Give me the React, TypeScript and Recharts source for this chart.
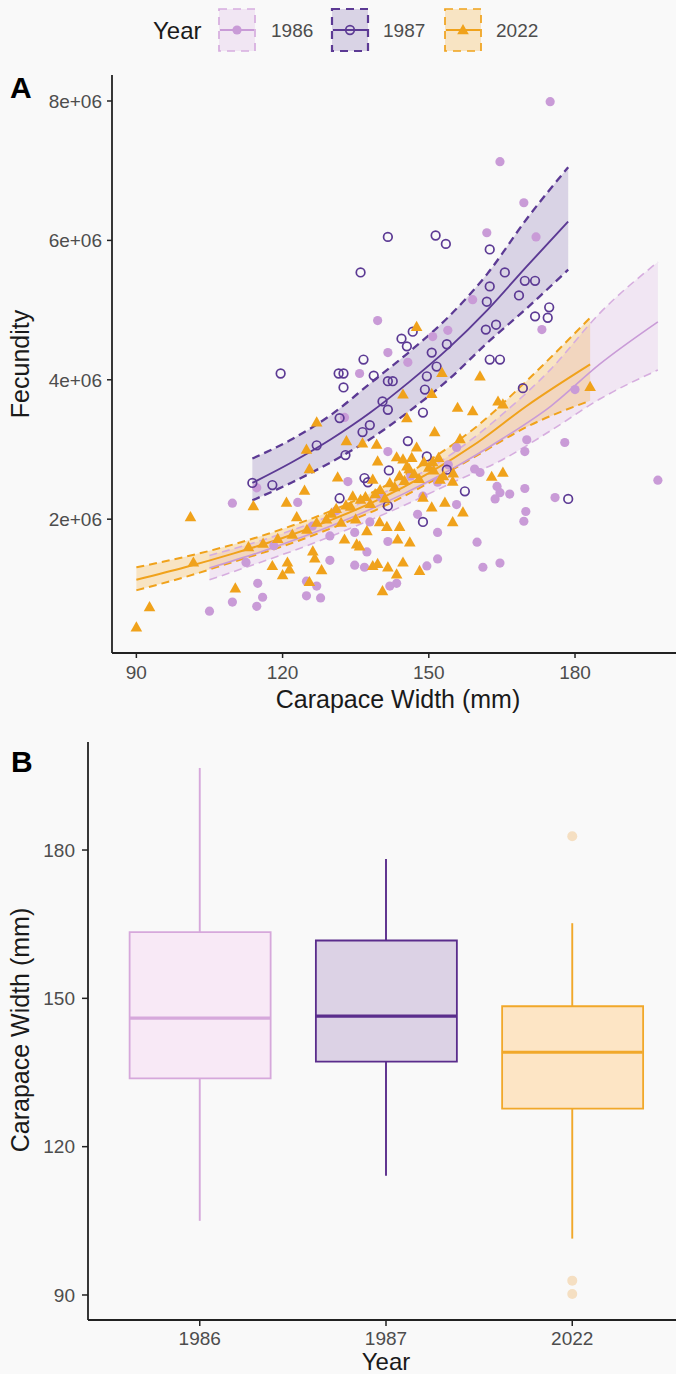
import React from "react";
import {
  Area,
  Bar,
  Cell,
  ComposedChart,
  Line,
  ReferenceLine,
  Scatter,
  XAxis,
  YAxis,
} from "recharts";

// ---------- panel A: carapace width (mm) vs fecundity (x 1e6 eggs) ----------
const pts1986: [number, number][] = [
  [105.0, 0.68], [109.7, 0.81], [109.7, 2.23], [112.5, 1.38], [114.7, 0.75], [114.7, 2.45],
  [114.9, 1.08], [115.9, 0.88], [118.2, 1.62], [123.1, 2.24], [124.9, 1.11], [124.9, 0.9],
  [126.1, 1.9], [127.0, 1.04], [127.8, 0.87], [129.7, 1.41], [129.7, 1.76], [131.0, 2.12],
  [132.7, 3.46], [133.4, 2.54], [134.8, 1.34], [134.8, 1.81], [135.8, 4.09], [136.8, 1.31],
  [137.3, 1.53], [137.9, 1.96], [139.5, 4.85], [140.2, 2.31], [141.6, 4.39], [141.6, 2.97],
  [141.6, 1.68], [142.0, 1.04], [143.4, 1.08], [145.7, 4.25], [146.3, 2.62], [147.7, 2.07],
  [148.8, 2.33], [149.6, 1.33], [150.8, 4.62], [151.8, 1.81], [151.8, 1.43], [151.8, 2.53],
  [153.9, 4.71], [154.0, 2.78], [155.7, 2.21], [155.7, 3.03], [159.0, 5.15], [159.4, 2.72],
  [159.9, 1.67], [160.5, 2.67], [161.1, 1.31], [161.9, 6.11], [163.6, 2.29], [164.0, 2.47],
  [164.6, 2.38], [164.6, 1.37], [164.6, 7.13], [166.6, 2.36], [169.5, 6.54], [169.5, 1.97],
  [169.7, 2.97], [169.7, 2.44], [169.9, 2.11], [170.1, 3.14], [172.0, 6.05], [173.2, 4.72],
  [174.9, 7.99], [175.9, 2.31], [177.9, 3.1], [180.0, 3.86], [197.0, 2.56],
];

const pts1987: [number, number][] = [
  [113.8, 2.52], [117.9, 2.49], [119.6, 4.09], [127.0, 3.06], [131.5, 4.09], [132.5, 4.09],
  [131.7, 3.45], [132.9, 2.92], [131.7, 2.3], [132.5, 3.89], [136.0, 5.54], [136.6, 4.29],
  [136.4, 3.25], [137.9, 3.35], [136.8, 2.59], [137.5, 2.53], [138.7, 4.06], [140.5, 3.69],
  [141.6, 3.57], [141.6, 6.05], [141.6, 3.98], [142.6, 3.98], [141.8, 2.7], [141.6, 2.19],
  [144.4, 4.59], [145.5, 4.48], [146.7, 4.69], [145.7, 3.12], [148.8, 3.53], [149.2, 3.86],
  [149.6, 4.05], [149.6, 2.9], [148.8, 1.96], [150.6, 4.39], [151.6, 4.19], [151.4, 6.07],
  [153.5, 5.95], [153.7, 4.51], [153.7, 2.71], [157.4, 2.4], [161.7, 4.72], [161.9, 5.12],
  [162.5, 5.34], [162.5, 5.87], [162.5, 4.29], [163.8, 4.79], [164.6, 4.29], [165.6, 5.54],
  [168.5, 5.21], [169.3, 3.88], [169.7, 5.42], [171.8, 5.42], [171.8, 4.91], [174.4, 4.89],
  [174.7, 5.04], [178.6, 2.29],
];

const pts2022: [number, number][] = [
  [90.0, 0.45], [92.7, 0.74], [101.1, 2.03], [101.7, 1.38], [110.3, 1.01], [114.0, 2.19],
  [113.0, 1.6], [116.0, 1.65], [117.9, 1.33], [119.0, 1.72], [120.0, 1.2], [120.8, 2.24],
  [121.0, 1.38], [121.4, 1.28], [122.0, 1.78], [122.9, 2.03], [124.5, 2.41], [124.9, 3.0],
  [125.5, 2.72], [125.5, 1.1], [125.0, 1.85], [126.2, 1.54], [126.6, 1.44], [127.0, 3.39],
  [127.0, 1.95], [128.0, 1.27], [129.0, 2.0], [130.0, 2.08], [131.3, 2.6], [131.0, 2.15],
  [132.0, 1.95], [132.7, 1.71], [133.1, 3.12], [133.0, 2.2], [134.4, 2.33], [134.0, 2.18],
  [135.2, 1.64], [135.0, 2.0], [135.8, 1.61], [136.4, 3.09], [136.0, 2.28], [137.3, 1.83],
  [137.0, 2.32], [138.5, 2.57], [138.5, 1.33], [138.0, 2.22], [139.3, 3.07], [139.5, 2.83],
  [139.5, 1.36], [139.0, 2.36], [139.9, 1.96], [140.0, 2.42], [140.5, 0.97], [141.4, 1.89],
  [141.6, 1.31], [141.0, 2.3], [142.0, 2.52], [143.4, 2.89], [143.4, 1.21], [143.6, 1.71],
  [143.0, 2.46], [144.0, 1.89], [144.7, 2.86], [144.7, 3.79], [144.7, 1.38], [144.0, 2.62],
  [145.5, 3.45], [145.5, 2.76], [145.0, 2.55], [146.1, 1.67], [146.5, 2.88], [146.0, 2.72],
  [147.5, 3.03], [147.5, 4.76], [147.0, 2.65], [148.1, 1.26], [148.8, 2.31], [148.0, 2.58],
  [149.0, 2.82], [150.6, 3.8], [150.6, 2.17], [150.8, 2.82], [150.0, 2.74], [151.2, 3.25],
  [151.0, 2.7], [152.3, 2.57], [152.7, 4.1], [152.0, 2.88], [153.3, 2.24], [153.0, 2.62],
  [154.9, 2.54], [154.9, 1.96], [155.9, 3.6], [155.0, 2.66], [156.4, 3.15], [157.0, 2.1],
  [159.0, 3.55], [160.5, 4.05], [162.9, 2.61], [164.2, 3.69], [165.2, 3.65], [165.2, 2.67],
  [183.1, 3.9],
];

// fitted curves with confidence band (x 1e6)
const fitX1986 = [105, 115, 125, 135, 145, 155, 165, 175, 185, 197];
const fitMid1986 = [1.3, 1.52, 1.77, 2.05, 2.37, 2.73, 3.15, 3.62, 4.22, 4.83];
const fitLo1986 = [1.13, 1.37, 1.62, 1.9, 2.2, 2.53, 2.85, 3.27, 3.72, 4.14];
const fitHi1986 = [1.48, 1.68, 1.92, 2.2, 2.53, 2.95, 3.5, 4.15, 4.95, 5.69];

const fitX1987 = [113.8, 122, 130, 138, 146, 154, 162, 170, 178.6];
const fitMid1987 = [2.52, 2.82, 3.15, 3.53, 3.97, 4.45, 5.0, 5.62, 6.27];
const fitLo1987 = [2.27, 2.53, 2.82, 3.15, 3.55, 4.0, 4.53, 5.02, 5.58];
const fitHi1987 = [2.87, 3.15, 3.5, 3.95, 4.4, 4.9, 5.52, 6.3, 7.05];

const fitX2022 = [90, 100, 110, 120, 130, 140, 150, 160, 170, 183.1];
const fitMid2022 = [1.13, 1.31, 1.51, 1.73, 1.99, 2.29, 2.66, 3.1, 3.62, 4.22];
const fitLo2022 = [0.98, 1.17, 1.39, 1.61, 1.87, 2.16, 2.52, 2.92, 3.32, 3.7];
const fitHi2022 = [1.31, 1.46, 1.64, 1.86, 2.12, 2.44, 2.84, 3.34, 3.98, 4.89];

const fecTicks = [2, 4, 6, 8];
const cwTicks = [90, 120, 150, 180];

// ---------- panel B: carapace width by year ----------
const years = ["1986", "1987", "2022"];
const whiskerLow = [105, 114.1, 101.4];
const boxQ1 = [133.8, 137.2, 127.7];
const boxMedian = [146, 146.4, 139.1];
const boxQ3 = [163.4, 161.7, 148.4];
const whiskerHigh = [196.6, 178.2, 165.2];
const outliers2022 = [182.8, 92.9, 90.2];
const boxTicks = [90, 120, 150, 180];

const C = {
  "1986": { main: "#c99bd7", dash: "#d6addf", band: "#dfb8e6", bandOp: 0.3, boxFill: "#f8e9f6", boxStroke: "#d6a8db" },
  "1987": { main: "#5c3a94", dash: "#5c3a94", band: "#5c3a94", bandOp: 0.2, boxFill: "#dcd2e5", boxStroke: "#5a2d8c" },
  "2022": { main: "#f0a21b", dash: "#f0a21b", band: "#f6a823", bandOp: 0.25, boxFill: "#fde5c5", boxStroke: "#f1a82a" },
};

const AXIS = "#222";
const TICK = { fill: "#4d4d4d", fontSize: 19 };

const toPts = (p: [number, number][]) => p.map(([x, y]) => ({ x, y }));
const toFit = (xs: number[], mid: number[], lo: number[], hi: number[]) =>
  xs.map((x, i) => ({ x, mid: mid[i], lo: lo[i], hi: hi[i], band: [lo[i], hi[i]] }));

const fits = {
  "1986": toFit(fitX1986, fitMid1986, fitLo1986, fitHi1986),
  "1987": toFit(fitX1987, fitMid1987, fitLo1987, fitHi1987),
  "2022": toFit(fitX2022, fitMid2022, fitLo2022, fitHi2022),
};

function Marker({ kind, cx, cy }: { kind: string; cx: number; cy: number }) {
  if (kind === "1986") return <circle cx={cx} cy={cy} r={4.6} fill={C["1986"].main} />;
  if (kind === "1987")
    return <circle cx={cx} cy={cy} r={4.3} fill="none" stroke={C["1987"].main} strokeWidth={1.7} />;
  return (
    <path
      d={`M${cx},${cy - 6} L${cx + 5.8},${cy + 4.2} L${cx - 5.8},${cy + 4.2} Z`}
      fill={C["2022"].main}
    />
  );
}

function PanelA() {
  const dashW = { "1986": 1.6, "1987": 2.3, "2022": 2 };
  const lineW = { "1986": 1.6, "1987": 1.9, "2022": 2 };
  return (
    <ComposedChart width={684} height={720} margin={{ top: 75, right: 0, bottom: 0, left: 0 }}>
      <XAxis
        type="number"
        dataKey="x"
        domain={[85.0, 202.36]}
        ticks={cwTicks}
        allowDataOverflow
        height={67}
        axisLine={{ stroke: AXIS, strokeWidth: 1.8 }}
        tickLine={{ stroke: AXIS, strokeWidth: 1.5 }}
        tickSize={5}
        tickMargin={8}
        tick={TICK}
      />
      <YAxis
        type="number"
        domain={[0.08, 8.373]}
        ticks={fecTicks}
        allowDataOverflow
        width={112}
        axisLine={{ stroke: AXIS, strokeWidth: 1.8 }}
        tickLine={{ stroke: AXIS, strokeWidth: 1.5 }}
        tickSize={5}
        tickMargin={5}
        tick={TICK}
        tickFormatter={(v: number) => `${v}e+06`}
      />
      <Scatter data={toPts(pts1986)} dataKey="y" isAnimationActive={false}
        shape={(p: any) => <Marker kind="1986" cx={p.cx} cy={p.cy} />} />
      <Scatter data={toPts(pts1987)} dataKey="y" isAnimationActive={false}
        shape={(p: any) => <Marker kind="1987" cx={p.cx} cy={p.cy} />} />
      <Scatter data={toPts(pts2022)} dataKey="y" isAnimationActive={false}
        shape={(p: any) => <Marker kind="2022" cx={p.cx} cy={p.cy} />} />
      {years.map((yr) => (
        <Area
          key={`band-${yr}`}
          data={fits[yr]}
          dataKey="band"
          type="monotone"
          stroke="none"
          fill={C[yr].band}
          fillOpacity={C[yr].bandOp}
          isAnimationActive={false}
          activeDot={false}
        />
      ))}
      {years.flatMap((yr) =>
        ["lo", "hi"].map((k) => (
          <Line
            key={`${k}-${yr}`}
            data={fits[yr]}
            dataKey={k}
            type="monotone"
            stroke={C[yr].dash}
            strokeWidth={dashW[yr]}
            strokeDasharray="8 5"
            dot={false}
            activeDot={false}
            isAnimationActive={false}
          />
        ))
      )}
      {years.map((yr) => (
        <Line
          key={`mid-${yr}`}
          data={fits[yr]}
          dataKey="mid"
          type="monotone"
          stroke={C[yr].main}
          strokeWidth={lineW[yr]}
          dot={false}
          activeDot={false}
          isAnimationActive={false}
        />
      ))}
    </ComposedChart>
  );
}

function PanelB() {
  const rows = years.map((yr, i) => ({ pos: i + 1, box: [boxQ1[i], boxQ3[i]] }));
  const outRows = outliers2022.map((v) => ({ pos: 3, cw: v }));
  const half = 0.378;
  return (
    <ComposedChart width={684} height={654} data={rows} margin={{ top: 22, right: 0, bottom: 0, left: 0 }}>
      <XAxis
        type="number"
        dataKey="pos"
        domain={[0.4, 3.6]}
        ticks={[1, 2, 3]}
        allowDataOverflow
        height={54}
        axisLine={{ stroke: AXIS, strokeWidth: 1.8 }}
        tickLine={{ stroke: AXIS, strokeWidth: 1.5 }}
        tickSize={6}
        tickMargin={6}
        tick={TICK}
        tickFormatter={(v: number) => years[v - 1]}
      />
      <YAxis
        type="number"
        domain={[84.94, 201.85]}
        ticks={boxTicks}
        allowDataOverflow
        width={88}
        axisLine={{ stroke: AXIS, strokeWidth: 1.8 }}
        tickLine={{ stroke: AXIS, strokeWidth: 1.5 }}
        tickSize={6}
        tickMargin={7}
        tick={TICK}
      />
      <Bar dataKey="box" barSize={141} isAnimationActive={false}>
        {years.map((yr) => (
          <Cell key={yr} fill={C[yr].boxFill} stroke={C[yr].boxStroke} strokeWidth={1.8} />
        ))}
      </Bar>
      {years.map((yr, i) => (
        <ReferenceLine
          key={`wh-${yr}`}
          segment={[{ x: i + 1, y: boxQ3[i] }, { x: i + 1, y: whiskerHigh[i] }]}
          stroke={C[yr].boxStroke}
          strokeWidth={1.9}
        />
      ))}
      {years.map((yr, i) => (
        <ReferenceLine
          key={`wl-${yr}`}
          segment={[{ x: i + 1, y: whiskerLow[i] }, { x: i + 1, y: boxQ1[i] }]}
          stroke={C[yr].boxStroke}
          strokeWidth={1.9}
        />
      ))}
      {years.map((yr, i) => (
        <ReferenceLine
          key={`md-${yr}`}
          segment={[{ x: i + 1 - half, y: boxMedian[i] }, { x: i + 1 + half, y: boxMedian[i] }]}
          stroke={C[yr].boxStroke}
          strokeWidth={3.2}
        />
      ))}
      <Scatter
        data={outRows}
        dataKey="cw"
        isAnimationActive={false}
        shape={(p: any) => <circle cx={p.cx} cy={p.cy} r={5} fill="#f5dfc2" />}
      />
    </ComposedChart>
  );
}

function Overlay() {
  const keys = [
    { yr: "1986", kx: 218, lx: 271 },
    { yr: "1987", kx: 331, lx: 383 },
    { yr: "2022", kx: 444, lx: 496 },
  ];
  return (
    <svg
      width={676}
      height={1374}
      style={{ position: "absolute", left: 0, top: 0, pointerEvents: "none" }}
    >
      <text x={153} y={39} fontSize={24} fill="#1a1a1a">Year</text>
      {keys.map(({ yr, kx, lx }) => (
        <g key={yr}>
          <rect x={kx + 1} y={9} width={36} height={42} fill={C[yr].band} fillOpacity={C[yr].bandOp}
            stroke={C[yr].dash} strokeWidth={yr === "1987" ? 2.2 : 1.7} strokeDasharray="8 6" />
          <line x1={kx + 2} x2={kx + 36} y1={30} y2={30} stroke={C[yr].main} strokeWidth={1.8} />
          <Marker kind={yr} cx={kx + 19} cy={30} />
          <text x={lx} y={37} fontSize={19} fill="#4d4d4d">{yr}</text>
        </g>
      ))}
      <text x={10} y={98} fontSize={30} fontWeight="bold" fill="#000">A</text>
      <text x={11} y={772} fontSize={30} fontWeight="bold" fill="#000">B</text>
      <text transform="translate(29,364) rotate(-90)" textAnchor="middle" fontSize={25} fill="#1a1a1a">
        Fecundity
      </text>
      <text x={398} y={708} textAnchor="middle" fontSize={25} fill="#1a1a1a">Carapace Width (mm)</text>
      <text transform="translate(29,1030) rotate(-90)" textAnchor="middle" fontSize={25} fill="#1a1a1a">
        Carapace Width (mm)
      </text>
      <text x={386} y={1370} textAnchor="middle" fontSize={24} fill="#1a1a1a">Year</text>
    </svg>
  );
}

export default function App() {
  return (
    <div
      style={{
        position: "absolute",
        left: 0,
        top: 0,
        width: 676,
        height: 1374,
        overflow: "hidden",
        background: "#f9f9f9",
        fontFamily: "'Liberation Sans', Arial, Helvetica, sans-serif",
      }}
    >
      <div style={{ position: "absolute", left: 0, top: 0 }}>
        <PanelA />
      </div>
      <div style={{ position: "absolute", left: 0, top: 720 }}>
        <PanelB />
      </div>
      <Overlay />
    </div>
  );
}
